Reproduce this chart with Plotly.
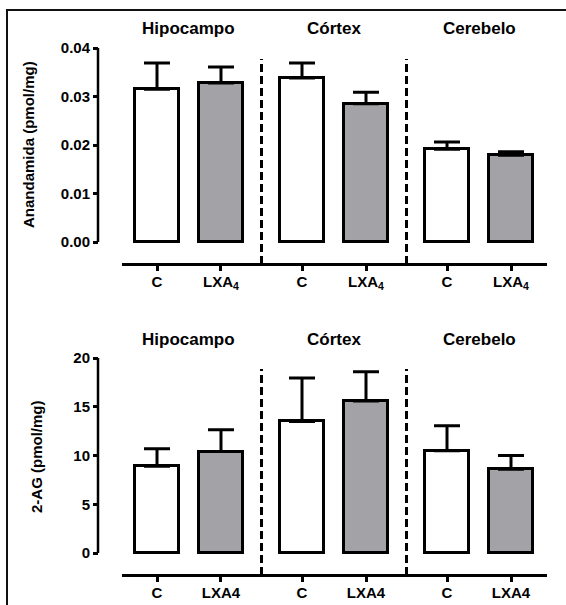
import plotly.graph_objects as go

# ---------------- data ----------------
groups = ["Hipocampo", "Córtex", "Cerebelo"]
treatments = ["C", "LXA4"]
tick_top = ["C", "LXA<sub>4</sub>"]
tick_bottom = ["C", "LXA4"]

aea_mean = [0.0315, 0.0328, 0.0338, 0.0285, 0.0191, 0.0179]
aea_sem = [0.0054, 0.0033, 0.0031, 0.0024, 0.0015, 0.0007]

ag_mean = [8.9, 10.4, 13.5, 15.6, 10.5, 8.6]
ag_sem = [1.8, 2.25, 4.45, 3.0, 2.55, 1.4]

aea_ticks = [0, 0.01, 0.02, 0.03, 0.04]
ag_ticks = [0, 5, 10, 15, 20]

# ---------------- layout helpers ----------------
W, H = 566, 605
GROUP_STEP = 2.266
BAR_W = 0.70
FILL = ["white", "#a3a3a7"]
FONT = "Liberation Sans, Arial, sans-serif"


def px(x):
    return x / W


def py(y):
    return 1 - y / H


xpos = [g * GROUP_STEP + t for g in range(len(groups)) for t in range(len(treatments))]
colors = [FILL[t] for g in range(len(groups)) for t in range(len(treatments))]
dividers = [g * GROUP_STEP + 1 + (GROUP_STEP - 1) / 2 for g in range(len(groups) - 1)]
group_centers = [g * GROUP_STEP + 0.5 for g in range(len(groups))]

fig = go.Figure()

panels = [
    dict(mean=aea_mean, sem=aea_sem, ticks=aea_ticks, ticktext=[f"{v:.2f}" for v in aea_ticks],
         xlab=tick_top, ytitle="Anandamida (pmol/mg)",
         ytop=48, yzero=242, xline=264, divtop=59, title_y=29,
         ytitle_x=28, ytitle_y=145, xa="x", ya="y"),
    dict(mean=ag_mean, sem=ag_sem, ticks=ag_ticks, ticktext=[str(v) for v in ag_ticks],
         xlab=tick_bottom, ytitle="2-AG (pmol/mg)",
         ytop=358, yzero=553, xline=575, divtop=369, title_y=339,
         ytitle_x=37, ytitle_y=457, xa="x2", ya="y2"),
]

shapes = []
annotations = []
for i, p in enumerate(panels):
    fig.add_trace(go.Bar(
        x=xpos, y=p["mean"], width=BAR_W,
        marker=dict(color=colors, line=dict(color="black", width=3)),
        error_y=dict(type="data", symmetric=False, array=p["sem"],
                     arrayminus=[0] * len(p["sem"]), color="black",
                     thickness=3, width=13),
        xaxis=p["xa"], yaxis=p["ya"], showlegend=False, hoverinfo="skip",
    ))
    ymax = p["ticks"][-1]
    span = p["yzero"] - p["ytop"]
    ext = 3
    ymin = -ymax * ext / span
    suffix = "" if i == 0 else "2"
    x_left = -(157 - 122) / 64
    x_right = xpos[-1] + (547 - 511) / 64
    fig.update_layout(**{
        "xaxis" + suffix: dict(
            domain=[px(122), px(547)], range=[x_left, x_right],
            anchor="free", position=py(p["xline"]),
            showline=True, linewidth=2.5, linecolor="black",
            ticks="outside", ticklen=5, tickwidth=2.5, tickcolor="black",
            tickvals=xpos, ticktext=p["xlab"] * len(groups),
            ticklabelstandoff=-2,
            tickfont=dict(family=FONT, size=15, color="black", weight="bold"),
            showgrid=False, zeroline=False, automargin=False, fixedrange=True,
        ),
        "yaxis" + suffix: dict(
            domain=[py(p["yzero"] + ext), py(p["ytop"])], range=[ymin, ymax],
            anchor="free", position=px(98),
            showline=False,
            ticks="outside", ticklen=5, tickwidth=2.5, tickcolor="black",
            tickvals=p["ticks"], ticktext=p["ticktext"],
            tickfont=dict(family=FONT, size=15, color="black", weight="bold"),
            showgrid=False, zeroline=False, automargin=False, fixedrange=True,
        ),
    })
    # y axis line from 0 to max
    shapes.append(dict(type="line", xref="paper", yref=p["ya"],
                       x0=px(98), x1=px(98), y0=0, y1=ymax,
                       line=dict(color="black", width=2.5)))
    # dashed dividers
    for d in dividers:
        shapes.append(dict(type="line", xref=p["xa"], yref="paper",
                           x0=d, x1=d, y0=py(p["xline"]), y1=py(p["divtop"]),
                           line=dict(color="black", width=3, dash="8px,4px")))
    # group titles
    for g, name in enumerate(groups):
        annotations.append(dict(text=name, xref=p["xa"], yref="paper",
                                x=group_centers[g], y=py(p["title_y"]),
                                xanchor="center", yanchor="middle", showarrow=False,
                                font=dict(family=FONT, size=17, color="black", weight="bold")))
    annotations.append(dict(text=p["ytitle"], xref="paper", yref="paper",
                            x=px(p["ytitle_x"]), y=py(p["ytitle_y"]), textangle=-90,
                            xanchor="center", yanchor="middle", showarrow=False,
                            font=dict(family=FONT, size=15, color="black", weight="bold")))

# outer frame (left and top edges)
shapes.append(dict(type="path", xref="paper", yref="paper",
                   path=f"M {px(7)} {py(610)} L {px(7)} {py(10)} L {px(570)} {py(10)}",
                   line=dict(color="#111111", width=2)))

fig.update_layout(
    width=W, height=H,
    margin=dict(l=0, r=0, t=0, b=0),
    paper_bgcolor="white", plot_bgcolor="rgba(0,0,0,0)",
    shapes=shapes, annotations=annotations,
    bargap=0, showlegend=False,
)

fig.write_html(
    "out.html",
    config={"displayModeBar": False},
    post_script="document.body.style.margin='0';document.body.style.overflow='hidden';",
)
